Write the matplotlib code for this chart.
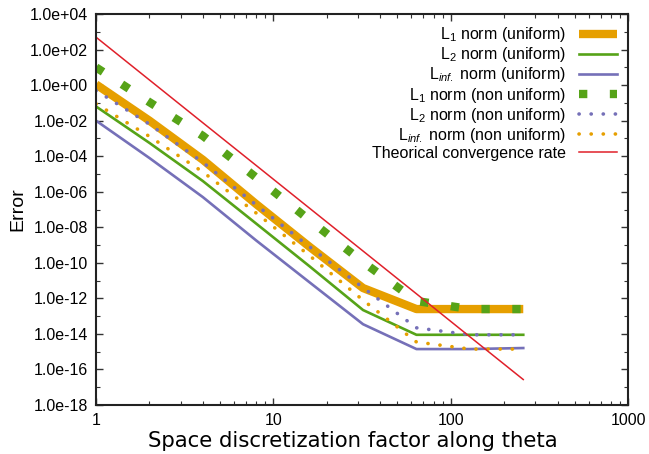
import numpy as np
import matplotlib
matplotlib.use("Agg")
import matplotlib.pyplot as plt
import matplotlib.ticker as mticker

plt.rcParams["font.family"] = ["Liberation Sans", "DejaVu Sans"]
plt.rcParams["mathtext.fontset"] = "custom"
plt.rcParams["mathtext.rm"] = "Liberation Sans"
plt.rcParams["mathtext.it"] = "Liberation Sans:italic"

# space discretization factor
n_theta = [1, 2, 4, 8, 16, 32, 64, 128, 256]

# errors, uniform grid
l1_uni = [1.1, 1.0e-2, 6.3e-5, 2.0e-7, 7.9e-10, 3.8e-12, 2.5e-13, 2.5e-13, 2.5e-13]
l2_uni = [6.3e-2, 5.6e-4, 4.0e-6, 1.6e-8, 6.3e-11, 2.2e-13, 8.9e-15, 8.9e-15, 8.9e-15]
linf_uni = [1.0e-2, 7.9e-5, 5.0e-7, 1.8e-9, 7.9e-12, 3.5e-14, 1.4e-15, 1.4e-15, 1.6e-15]

# errors, non uniform grid
l1_non = [10.0, 1.1e-1, 1.4e-3, 6.3e-6, 2.5e-8, 1.1e-10, 7.1e-13, 2.5e-13, 2.5e-13]
l2_non = [5.0e-1, 6.3e-3, 4.5e-5, 1.8e-7, 7.9e-10, 4.0e-12, 2.2e-14, 8.9e-15, 8.9e-15]
linf_non = [8.9e-2, 1.3e-3, 1.3e-5, 6.3e-8, 2.5e-10, 7.9e-13, 3.5e-15, 1.4e-15, 1.4e-15]

# theoretical convergence (order 8)
theory = [5.0e2, 1.95, 7.6e-3, 3.0e-5, 1.17e-7, 4.6e-10, 1.8e-12, 6.9e-15, 2.7e-17]

orange = "#e69f00"
green = "#56a318"
purple = "#7570b8"
red = "#e0202a"

fig = plt.figure(figsize=(6.49, 4.54), dpi=100)
ax = fig.add_axes([0.148, 0.108, 0.82, 0.861])

ax.plot(n_theta, l1_uni, color=orange, lw=6, solid_capstyle="butt", label="L$_1$ norm (uniform)")
ax.plot(n_theta, l2_uni, color=green, lw=1.9, label="L$_2$ norm (uniform)")
ax.plot(n_theta, linf_uni, color=purple, lw=1.9, label="L$_{inf.}$ norm (uniform)")
ax.plot(n_theta, l1_non, color=green, lw=6, linestyle=(0, (1, 2.7)), dash_capstyle="butt",
        label="L$_1$ norm (non uniform)")
ax.plot(n_theta, l2_non, color=purple, lw=2.6, linestyle=(0, (0.05, 3.3)), dash_capstyle="round",
        label="L$_2$ norm (non uniform)")
ax.plot(n_theta, linf_non, color=orange, lw=2.6, linestyle=(0, (0.05, 3.3)), dash_capstyle="round",
        label="L$_{inf.}$ norm (non uniform)")
ax.plot(n_theta, theory, color=red, lw=1.1, label="Theorical convergence rate")

ax.set_xscale("log")
ax.set_yscale("log")
ax.set_xlim(1, 1000)
ax.set_ylim(1e-18, 1e4)

ax.yaxis.set_major_locator(mticker.FixedLocator([10.0 ** k for k in range(-18, 5, 2)]))
ax.yaxis.set_minor_locator(mticker.FixedLocator([10.0 ** k for k in range(-17, 4, 2)]))
ax.yaxis.set_major_formatter(mticker.FuncFormatter(lambda v, p: f"{v:.1e}"))
ax.yaxis.set_minor_formatter(mticker.NullFormatter())
ax.xaxis.set_major_locator(mticker.FixedLocator([1, 10, 100, 1000]))
ax.xaxis.set_major_formatter(mticker.FuncFormatter(lambda v, p: f"{v:g}"))
ax.xaxis.set_minor_locator(mticker.LogLocator(base=10, subs=np.arange(2, 10)))
ax.xaxis.set_minor_formatter(mticker.NullFormatter())

ax.tick_params(which="both", direction="in", top=True, right=True, labelsize=11.5, color="#333333")
ax.tick_params(which="major", length=5, width=1)
ax.tick_params(which="minor", length=3, width=0.8)
ax.tick_params(axis="y", pad=6)
ax.tick_params(axis="x", pad=6)
for s in ax.spines.values():
    s.set_linewidth(1.5)
    s.set_color("#222222")

ax.set_ylabel("Error", fontsize=14, labelpad=2)
ax.set_xlabel("Space discretization factor along theta", fontsize=15.3, family="DejaVu Sans")
ax.xaxis.set_label_coords(0.483, -0.067)

ax.legend(loc="upper right", frameon=False, markerfirst=False, fontsize=11.5, handlelength=2.4,
          labelspacing=0.07, handletextpad=0.8, borderaxespad=0.3)

fig.savefig("out.png", dpi=100)
